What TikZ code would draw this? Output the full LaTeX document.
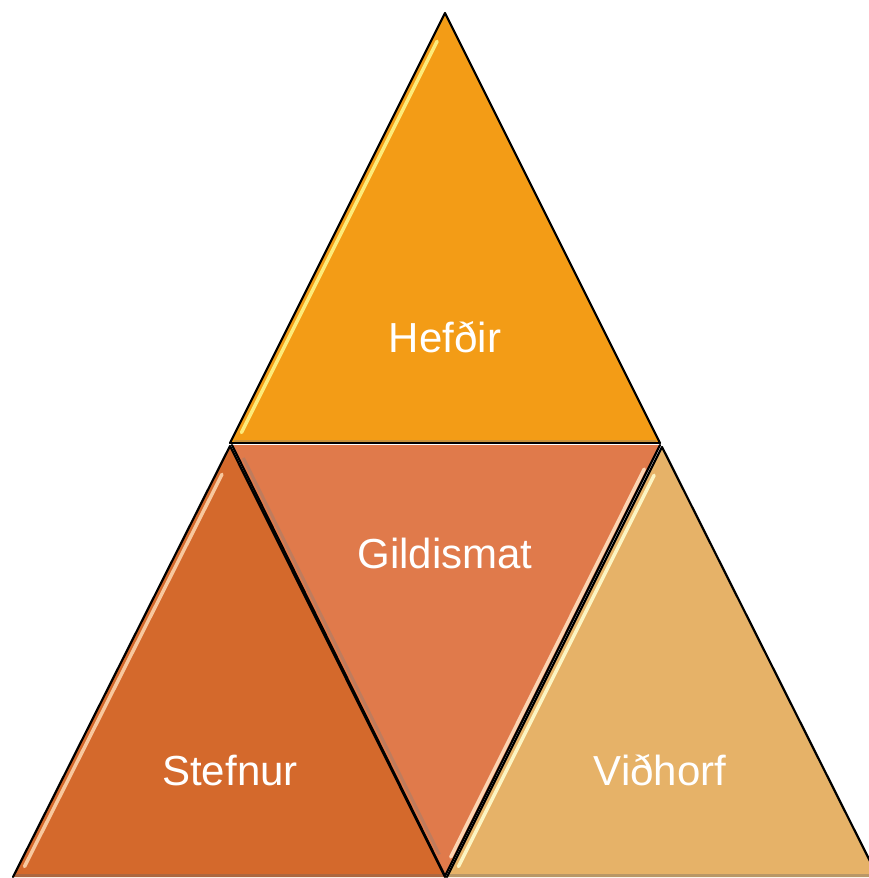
\documentclass[tikz,border=0pt]{standalone}
\usepackage{fontspec}
\setmainfont{Liberation Sans}
\usetikzlibrary{calc}
\definecolor{cTop}{RGB}{243,156,22}
\definecolor{cLeft}{RGB}{212,105,44}
\definecolor{cMid}{RGB}{224,122,75}
\definecolor{cRight}{RGB}{230,178,104}
\tikzset{
  edge/.style={draw=black, line width=2.2pt, line cap=round, line join=round},
  glint/.style={line width=3.5pt, line cap=round},
  shade/.style={line width=3pt, opacity=0.35},
  label/.style={text=white, font=\fontsize{42}{48}\selectfont, inner sep=0pt}
}
\begin{document}
\begin{tikzpicture}[x=1pt,y=-1pt]
\useasboundingbox (0,0) rectangle (868,878);
% corner points of the four triangles
\coordinate (T1) at (445,13);
\coordinate (T2) at (230,443);
\coordinate (T3) at (660,443);
\coordinate (L1) at (230,446);
\coordinate (L2) at (13,877);
\coordinate (L3) at (445,877);
\coordinate (M1) at (232,445);
\coordinate (M2) at (660,445);
\coordinate (M3) at (445,876);
\coordinate (R1) at (662,447);
\coordinate (R2) at (447,877);
\coordinate (R3) at (878,877);

% fills
\fill[cTop] (T1) -- (T2) -- (T3) -- cycle;
\fill[cLeft] (L1) -- (L2) -- (L3) -- cycle;
\fill[cMid] (M1) -- (M2) -- (M3) -- cycle;
\fill[cRight] (R1) -- (R2) -- (R3) -- cycle;

% bevel shading along the bottom edges
\draw[shade, black!60] ($(L2)+(2,-2)$) -- ($(L3)+(-2,-2)$);
\draw[shade, black!60] ($(R2)+(2,-2)$) -- ($(R3)+(-2,-2)$);
\draw[shade, black!50] ($(T2)+(4,-2)$) -- ($(T3)+(-4,-2)$);
\draw[shade, black!50] ($(M1)!0.03!(M3)+(5,0)$) -- ($(M1)!0.95!(M3)+(5,0)$);

% bevel glints along the lit edges
\draw[glint, white!55!yellow, opacity=0.85] ($(T1)!0.06!(T2)+(5,2.5)$) -- ($(T1)!0.97!(T2)+(5,2.5)$);
\draw[glint, white!70!orange, opacity=0.85] ($(L1)!0.06!(L2)+(5,2.5)$) -- ($(L1)!0.97!(L2)+(5,2.5)$);
\draw[glint, white!75!orange, opacity=0.9] ($(M2)!0.05!(M3)+(-5,2.5)$) -- ($(M2)!0.95!(M3)+(-5,2.5)$);
\draw[glint, white!80!yellow, opacity=0.9] ($(R1)!0.06!(R2)+(5,2.5)$) -- ($(R1)!0.97!(R2)+(5,2.5)$);

% outlines
\draw[edge] (T2) -- (T1) -- (T3);
\draw[edge] (T2) -- (T3);
\draw[edge] (L2) -- (L1) -- (L3);
\draw[edge] (M1) -- (M3) -- (M2);
\draw[edge] (R2) -- (R1) -- (R3);

% labels
\node[label] (hefdir) at (445,337) {Hefðir};
\node[label] (gildismat) at (445,553) {Gildismat};
\node[label] (stefnur) at (230,770) {Stefnur};
\node[label] (vidhorf) at (660,770) {Viðhorf};
\end{tikzpicture}
\end{document}
